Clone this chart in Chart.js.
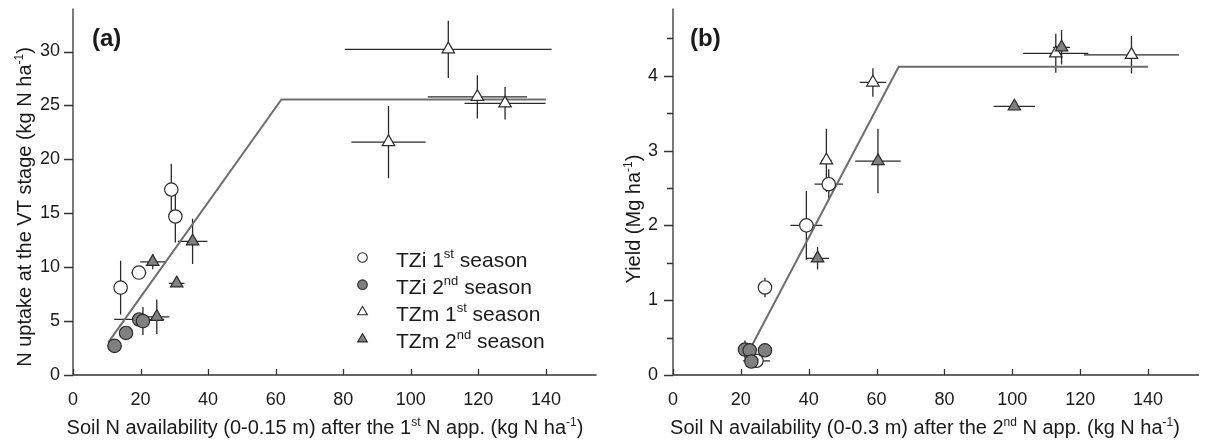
<!DOCTYPE html>
<html lang="en">
<head>
  <meta charset="UTF-8" />
  <title>N uptake and yield vs soil N availability</title>
  <script src="https://cdn.jsdelivr.net/npm/chart.js"></script>
  <style>
    body { margin: 0; background: #fff; }
    .row { display: flex; width: 1211px; height: 443px; }
    canvas { display: block; }
  </style>
</head>
<body>
  <div class="row">
    <canvas id="chartA" width="605" height="443"></canvas>
    <canvas id="chartB" width="606" height="443"></canvas>
  </div>

  <script>
    // ---- panel (a): N uptake at VT vs soil N after 1st N app ----
    const aTZi1X = [14.1, 19.5, 29.1, 30.3];
    const aTZi1Y = [8.1, 9.5, 17.2, 14.7];
    const aTZi1Ex = [0.6, 2.2, 1.2, 0.6];
    const aTZi1Ey = [2.5, 0.5, 2.4, 2.4];

    const aTZi2X = [12.3, 15.7, 19.6, 20.7];
    const aTZi2Y = [2.7, 3.9, 5.15, 5.0];
    const aTZi2Ex = [2.2, 1.0, 7.4, 1.5];
    const aTZi2Ey = [0.3, 0.3, 0.5, 1.3];

    const aTZm1X = [93.4, 111.1, 119.7, 127.9];
    const aTZm1Y = [21.6, 30.2, 25.8, 25.2];
    const aTZm1Ex = [11.0, 30.6, 14.7, 12.0];
    const aTZm1Ey = [3.35, 2.65, 2.0, 1.5];

    const aTZm2X = [23.6, 24.8, 30.7, 35.4];
    const aTZm2Y = [10.5, 5.4, 8.5, 12.4];
    const aTZm2Ex = [3.7, 3.7, 2.3, 4.4];
    const aTZm2Ey = [0.7, 1.6, 0.3, 2.1];

    const aFitX = [10.4, 61.7, 140];
    const aFitY = [3.0, 25.55, 25.55];

    // ---- panel (b): yield vs soil N after 2nd N app ----
    const bTZi1X = [24.6, 27.1, 39.3, 45.9];
    const bTZi1Y = [0.19, 1.17, 2.0, 2.55];
    const bTZi1Ex = [4.0, 0.8, 4.7, 4.2];
    const bTZi1Ey = [0.05, 0.13, 0.46, 0.2];

    const bTZi2X = [21.2, 22.6, 27.1, 23.1];
    const bTZi2Y = [0.34, 0.33, 0.33, 0.18];
    const bTZi2Ex = [1.0, 1.0, 1.0, 1.5];
    const bTZi2Ey = [0.12, 0.05, 0.05, 0.05];

    const bTZm1X = [45.2, 58.9, 112.8, 135.1];
    const bTZm1Y = [2.87, 3.91, 4.30, 4.28];
    const bTZm1Ex = [1.5, 3.9, 9.6, 14.0];
    const bTZm1Ey = [0.42, 0.19, 0.26, 0.25];

    const bTZm2X = [42.6, 60.4, 100.6, 114.5];
    const bTZm2Y = [1.56, 2.86, 3.59, 4.38];
    const bTZm2Ex = [3.4, 6.7, 6.1, 2.5];
    const bTZm2Ey = [0.15, 0.43, 0.05, 0.23];

    const bFitX = [23.1, 66.5, 140];
    const bFitY = [0.38, 4.12, 4.12];

    const legendLabels = ['TZi 1^{st} season', 'TZi 2^{nd} season', 'TZm 1^{st} season', 'TZm 2^{nd} season'];
    const bMinorY = [0.5, 1.5, 2.5, 3.5, 4.5];

    const FONT = '"Liberation Sans", Arial, sans-serif';
    const INK = '#1a1a1a';
    const EDGE = '#2b2b2b';
    const GREY = '#808080';

    Chart.defaults.font.family = FONT;
    Chart.defaults.font.size = 18;
    Chart.defaults.color = INK;

    function pts(xs, ys) {
      return xs.map((x, i) => ({ x: x, y: ys[i] }));
    }

    // filled markers sit on top of open ones (lower order = drawn later)
    function series(label, xs, ys, ex, ey, style, fill) {
      return {
        type: 'scatter',
        label: label,
        data: pts(xs, ys),
        errX: ex,
        errY: ey,
        pointStyle: style,
        pointRadius: style === 'triangle' ? 7.2 : 6.7,
        backgroundColor: fill,
        borderColor: EDGE,
        borderWidth: 1.2,
        order: fill === '#fff' ? 2 : 1
      };
    }

    function fitLine(xs, ys) {
      return {
        type: 'line',
        label: 'fit',
        data: pts(xs, ys),
        borderColor: '#6e6e6e',
        borderWidth: 2,
        pointRadius: 0,
        fill: false,
        tension: 0,
        order: 5
      };
    }

    // text with ^{...} superscripts
    function drawRich(ctx, str, x, y, size, align) {
      const parts = str.split(/\^\{(.*?)\}/);
      const big = size + 'px ' + FONT;
      const small = Math.round(size * 0.62) + 'px ' + FONT;
      let w = 0;
      parts.forEach((t, i) => { ctx.font = i % 2 ? small : big; w += ctx.measureText(t).width; });
      let cx = align === 'center' ? x - w / 2 : x;
      ctx.textAlign = 'left';
      ctx.textBaseline = 'alphabetic';
      parts.forEach((t, i) => {
        ctx.font = i % 2 ? small : big;
        ctx.fillText(t, cx, i % 2 ? y - size * 0.42 : y);
        cx += ctx.measureText(t).width;
      });
    }

    function marker(ctx, style, x, y, r, fill) {
      ctx.beginPath();
      if (style === 'circle') {
        ctx.arc(x, y, r, 0, Math.PI * 2);
      } else {
        ctx.moveTo(x, y - r);
        ctx.lineTo(x + r * Math.sin(Math.PI / 3), y + r / 2);
        ctx.lineTo(x - r * Math.sin(Math.PI / 3), y + r / 2);
        ctx.closePath();
      }
      ctx.fillStyle = fill;
      ctx.fill();
      ctx.lineWidth = 1.1;
      ctx.strokeStyle = EDGE;
      ctx.stroke();
    }

    function makeDecor(cfg) {
      return {
        id: 'decor',
        beforeDatasetsDraw(chart) {
          const ctx = chart.ctx;
          const xs = chart.scales.x, ys = chart.scales.y;
          ctx.save();
          ctx.strokeStyle = '#2a2a2a';
          ctx.lineWidth = 1.3;
          chart.data.datasets.forEach(ds => {
            if (!ds.errX) return;
            ds.data.forEach((p, i) => {
              const px = xs.getPixelForValue(p.x), py = ys.getPixelForValue(p.y);
              ctx.beginPath();
              ctx.moveTo(xs.getPixelForValue(p.x - ds.errX[i]), py);
              ctx.lineTo(xs.getPixelForValue(p.x + ds.errX[i]), py);
              ctx.moveTo(px, ys.getPixelForValue(p.y - ds.errY[i]));
              ctx.lineTo(px, ys.getPixelForValue(p.y + ds.errY[i]));
              ctx.stroke();
            });
          });
          ctx.restore();
        },
        afterDraw(chart) {
          const ctx = chart.ctx;
          const a = chart.chartArea;
          const xs = chart.scales.x, ys = chart.scales.y;
          ctx.save();
          // axes
          ctx.strokeStyle = '#333';
          ctx.lineWidth = 1.3;
          ctx.beginPath();
          ctx.moveTo(a.left, a.top);
          ctx.lineTo(a.left, a.bottom);
          ctx.lineTo(a.right, a.bottom);
          xs.ticks.forEach(t => {
            const px = Math.round(xs.getPixelForValue(t.value)) + 0.5;
            ctx.moveTo(px, a.bottom);
            ctx.lineTo(px, a.bottom - 6);
          });
          ys.ticks.forEach(t => {
            const py = Math.round(ys.getPixelForValue(t.value)) + 0.5;
            ctx.moveTo(a.left, py);
            ctx.lineTo(a.left - 9, py);
          });
          (cfg.minorY || []).forEach(v => {
            const py = Math.round(ys.getPixelForValue(v)) + 0.5;
            ctx.moveTo(a.left, py);
            ctx.lineTo(a.left - 6, py);
          });
          ctx.stroke();

          ctx.fillStyle = INK;
          // panel label
          ctx.font = 'bold 24px ' + FONT;
          ctx.textAlign = 'left';
          ctx.textBaseline = 'alphabetic';
          ctx.fillText(cfg.label, cfg.labelX, 46);

          // axis titles
          drawRich(ctx, cfg.xTitle, a.left + 252, 434, 20, 'center');
          ctx.save();
          ctx.translate(cfg.yTitleX, cfg.yTitleY);
          ctx.rotate(-Math.PI / 2);
          drawRich(ctx, cfg.yTitle, 0, 0, 20, 'center');
          ctx.restore();

          // legend
          if (cfg.legend) {
            const styles = ['circle', 'circle', 'triangle', 'triangle'];
            const fills = ['#fff', GREY, '#fff', GREY];
            legendLabels.forEach((lab, i) => {
              const base = 266.5 + i * 27.2;
              marker(ctx, styles[i], 362.5, base - 9, styles[i] === 'circle' ? 4.8 : 5.6, fills[i]);
              ctx.fillStyle = INK;
              drawRich(ctx, lab, 396, base, 21, 'left');
            });
          }
          ctx.restore();
        }
      };
    }

    function axes(xMax, yMax, yStep, yWidth, yPad) {
      return {
        x: {
          type: 'linear',
          min: 0, max: xMax,
          grid: { display: false, drawTicks: false },
          border: { display: false },
          ticks: { stepSize: 20, includeBounds: false, padding: 14, maxRotation: 0, font: { size: 18 } },
          afterFit: s => { s.height = 68; s.paddingLeft = 0; s.paddingRight = 0; }
        },
        y: {
          type: 'linear',
          min: 0, max: yMax,
          grid: { display: false, drawTicks: false },
          border: { display: false },
          ticks: { stepSize: yStep, includeBounds: false, padding: yPad, font: { size: 18 } },
          afterFit: s => { s.width = yWidth; s.paddingTop = 0; s.paddingBottom = 0; }
        }
      };
    }

    new Chart(document.getElementById('chartA'), {
      type: 'scatter',
      data: {
        datasets: [
          fitLine(aFitX, aFitY),
          series('TZi 1st season', aTZi1X, aTZi1Y, aTZi1Ex, aTZi1Ey, 'circle', '#fff'),
          series('TZi 2nd season', aTZi2X, aTZi2Y, aTZi2Ex, aTZi2Ey, 'circle', GREY),
          series('TZm 1st season', aTZm1X, aTZm1Y, aTZm1Ex, aTZm1Ey, 'triangle', '#fff'),
          series('TZm 2nd season', aTZm2X, aTZm2Y, aTZm2Ex, aTZm2Ey, 'triangle', GREY)
        ]
      },
      options: {
        responsive: false,
        animation: false,
        events: [],
        layout: { padding: { top: 7, right: 5, left: 0, bottom: 0 } },
        plugins: { legend: { display: false }, tooltip: { enabled: false } },
        scales: axes(155, 34, 5, 73, 13)
      },
      plugins: [makeDecor({
        label: '(a)', labelX: 92,
        xTitle: 'Soil N availability (0-0.15 m) after the 1^{st} N app. (kg N ha^{-1})',
        yTitle: 'N uptake at the VT stage (kg N ha^{-1})',
        yTitleX: 31, yTitleY: 207,
        legend: true
      })]
    });

    new Chart(document.getElementById('chartB'), {
      type: 'scatter',
      data: {
        datasets: [
          fitLine(bFitX, bFitY),
          series('TZi 1st season', bTZi1X, bTZi1Y, bTZi1Ex, bTZi1Ey, 'circle', '#fff'),
          series('TZi 2nd season', bTZi2X, bTZi2Y, bTZi2Ex, bTZi2Ey, 'circle', GREY),
          series('TZm 1st season', bTZm1X, bTZm1Y, bTZm1Ex, bTZm1Ey, 'triangle', '#fff'),
          series('TZm 2nd season', bTZm2X, bTZm2Y, bTZm2Ex, bTZm2Ey, 'triangle', GREY)
        ]
      },
      options: {
        responsive: false,
        animation: false,
        events: [],
        layout: { padding: { top: 7, right: 12, left: 0, bottom: 0 } },
        plugins: { legend: { display: false }, tooltip: { enabled: false } },
        scales: axes(155, 4.9, 1, 68, 15)
      },
      plugins: [makeDecor({
        label: '(b)', labelX: 85,
        xTitle: 'Soil N availability (0-0.3 m) after the 2^{nd} N app. (kg N ha^{-1})',
        yTitle: 'Yield (Mg ha^{-1})',
        yTitleX: 35, yTitleY: 219,
        minorY: bMinorY,
        legend: false
      })]
    });
  </script>
</body>
</html>
